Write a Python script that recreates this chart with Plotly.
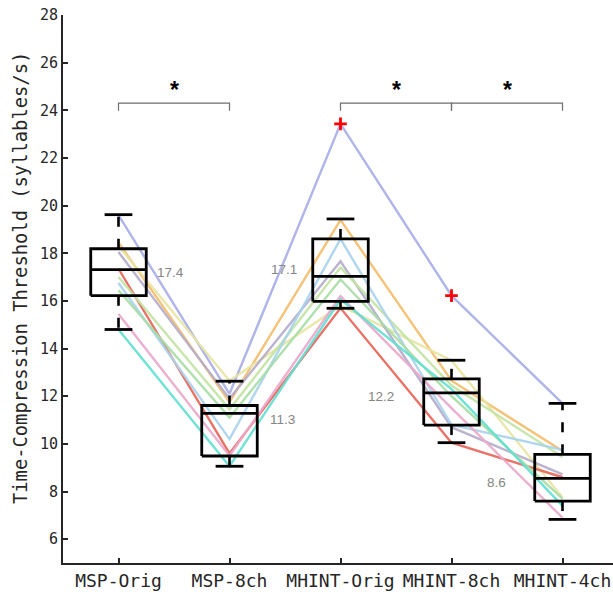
import plotly.graph_objects as go

# ---------------- data ----------------
categories = ["MSP-Orig", "MSP-8ch", "MHINT-Orig", "MHINT-8ch", "MHINT-4ch"]
positions = [1, 2, 3, 4, 5]

# individual subjects (values per condition)
s01 = [19.6, 12.1, 23.43, 16.22, 11.7]
s02 = [18.45, 11.75, 19.4, 12.65, 9.7]
s03 = [18.3, 12.65, 15.8, 13.5, 7.75]
s04 = [18.05, 11.9, 17.66, 10.7, 8.72]
s05 = [17.35, 9.6, 15.7, 10.05, 8.6]
s06 = [17.0, 11.45, 17.4, 12.45, 9.45]
s07 = [16.75, 10.2, 18.6, 10.8, 9.75]
s08 = [16.45, 11.1, 16.9, 12.0, 7.7]
s09 = [15.45, 9.5, 16.2, 11.5, 6.9]
s10 = [14.8, 9.06, 16.06, 12.3, 7.4]
subject_values = [s01, s02, s03, s04, s05, s06, s07, s08, s09, s10]
subject_colors = ["#a9aee8", "#f4be6c", "#e8e5a4", "#b6acca", "#e8665a",
                  "#c4e4a4", "#aad3ec", "#a8dea6", "#eaaacb", "#64e0d2"]

# box-plot statistics
box_q1 = [16.22, 9.49, 15.98, 10.79, 7.6]
box_median = [17.31, 11.28, 17.03, 12.14, 8.55]
box_q3 = [18.19, 11.61, 18.6, 12.73, 9.56]
whisker_low = [14.8, 9.06, 15.69, 10.05, 6.83]
whisker_high = [19.62, 12.63, 19.44, 13.51, 11.7]

outlier_x = [3, 4]
outlier_y = [23.43, 16.22]

median_labels = ["17.4", "11.3", "17.1", "12.2", "8.6"]

sig_pairs = [(1, 2), (3, 4), (4, 5)]
sig_level = 24.3

# ---------------- style ----------------
BOX_HALF = 0.25
CAP_HALF = 0.125
AX_COLOR = "#262626"
MONO = "DejaVu Sans Mono"

fig = go.Figure()

# subject lines
for vals, col in zip(subject_values, subject_colors):
    fig.add_trace(go.Scatter(x=positions, y=vals, mode="lines",
                             line=dict(color=col, width=2.4),
                             opacity=0.92, hoverinfo="skip", showlegend=False))

# dashed whiskers (start from box edge)
wx, wy = [], []
for p, q1, q3, lo, hi in zip(positions, box_q1, box_q3, whisker_low, whisker_high):
    wx += [p, p, None, p, p, None]
    wy += [q3, hi, None, q1, lo, None]
fig.add_trace(go.Scatter(x=wx, y=wy, mode="lines", connectgaps=False,
                         line=dict(color="black", width=2.6, dash="10px,12px"),
                         hoverinfo="skip", showlegend=False))

# whisker caps
cx, cy = [], []
for p, lo, hi in zip(positions, whisker_low, whisker_high):
    cx += [p - CAP_HALF, p + CAP_HALF, None, p - CAP_HALF, p + CAP_HALF, None]
    cy += [hi, hi, None, lo, lo, None]
fig.add_trace(go.Scatter(x=cx, y=cy, mode="lines", connectgaps=False,
                         line=dict(color="black", width=2.8),
                         hoverinfo="skip", showlegend=False))

# boxes and medians
bx, by = [], []
for p, q1, md, q3 in zip(positions, box_q1, box_median, box_q3):
    bx += [p - BOX_HALF, p + BOX_HALF, p + BOX_HALF, p - BOX_HALF, p - BOX_HALF, None,
           p - BOX_HALF, p + BOX_HALF, None]
    by += [q1, q1, q3, q3, q1, None, md, md, None]
fig.add_trace(go.Scatter(x=bx, y=by, mode="lines", connectgaps=False,
                         line=dict(color="black", width=2.8),
                         hoverinfo="skip", showlegend=False))

# outliers
fig.add_trace(go.Scatter(x=outlier_x, y=outlier_y, mode="markers",
                         marker=dict(symbol="cross-thin", size=9, color="red",
                                     line=dict(color="red", width=2.8)),
                         hoverinfo="skip", showlegend=False))

# significance brackets
TIP = 0.32
for a, b in sig_pairs:
    fig.add_trace(go.Scatter(x=[a, a, b, b], y=[sig_level - TIP, sig_level, sig_level, sig_level - TIP],
                             mode="lines", line=dict(color="#6e6e6e", width=1.2),
                             hoverinfo="skip", showlegend=False))
    fig.add_annotation(x=(a + b) / 2, y=sig_level, text="<b>*</b>", showarrow=False,
                       yanchor="bottom", yshift=-2,
                       font=dict(family="Liberation Sans", size=23, color="black"))

# median labels
label_shift = [(52, -3), (53, -6), (-57, 7), (-71, -4), (-66, -4)]
for p, md, txt, (dx, dy) in zip(positions, box_median, median_labels, label_shift):
    fig.add_annotation(x=p, y=md, text=txt, showarrow=False, xshift=dx, yshift=dy,
                       font=dict(family="Liberation Sans", size=13.5, color="#858585"))

# y-axis title
fig.add_annotation(xref="paper", yref="paper", x=0, y=0.52, xshift=-43,
                   text="Time-Compression Threshold (syllables/s)", textangle=-90,
                   showarrow=False, xanchor="center", yanchor="middle",
                   font=dict(family=MONO, size=18.8, color=AX_COLOR))

fig.update_layout(
    width=613, height=597,
    margin=dict(l=63, r=0, t=15, b=34, autoexpand=False),
    paper_bgcolor="white", plot_bgcolor="white",
    showlegend=False,
    xaxis=dict(range=[0.5, 5.455], tickvals=positions, ticktext=categories,
               automargin=False, ticklabeloverflow="allow",
               showline=True, linecolor=AX_COLOR, linewidth=2,
               ticks="inside", ticklen=5, tickwidth=1.5, tickcolor=AX_COLOR,
               tickfont=dict(family=MONO, size=18, color=AX_COLOR),
               showgrid=False, zeroline=False),
    yaxis=dict(range=[5, 28], tickvals=list(range(6, 29, 2)),
               automargin=False, ticklabeloverflow="allow",
               showline=True, linecolor=AX_COLOR, linewidth=2,
               ticks="inside", ticklen=5, tickwidth=1.5, tickcolor=AX_COLOR,
               tickfont=dict(family=MONO, size=15, color=AX_COLOR),
               showgrid=False, zeroline=False),
)

# remove the default page margin so the figure fills the window exactly
fig.write_html("out.html",
               config={"displayModeBar": False},
               post_script="document.body.style.margin='0px';"
                           "document.documentElement.style.overflow='hidden';")
